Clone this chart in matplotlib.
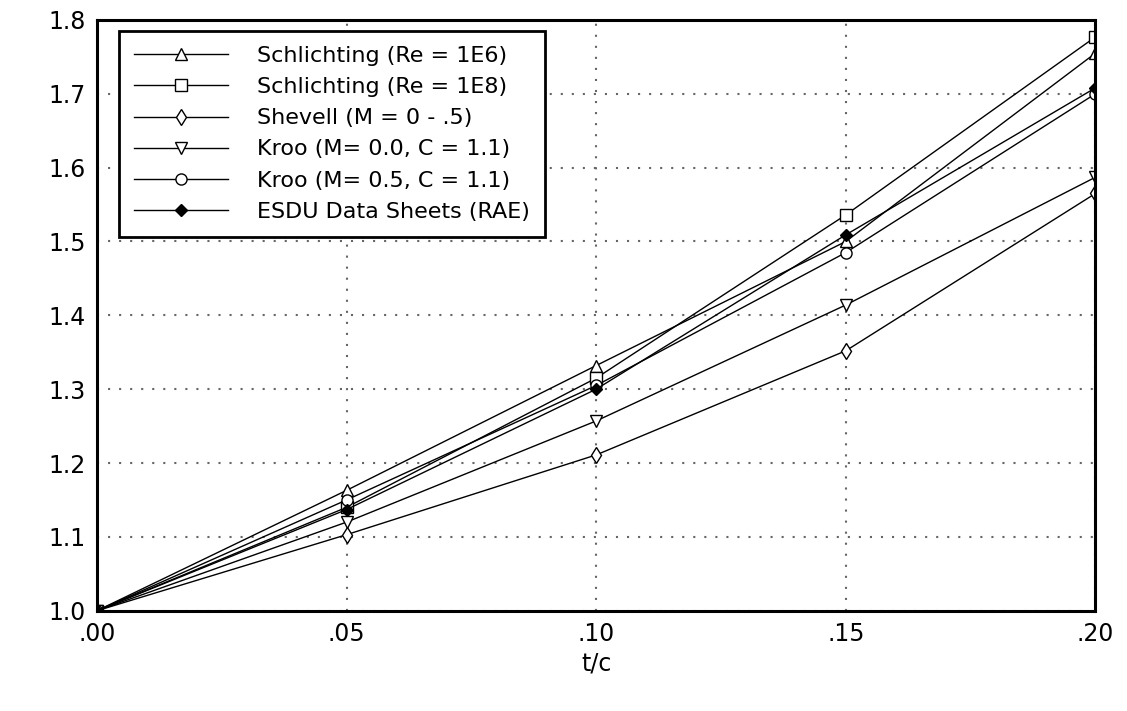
import matplotlib.pyplot as plt
import numpy as np

tc = [0.0, 0.05, 0.10, 0.15, 0.20]
schl_1e6 = [1.0, 1.163, 1.332, 1.500, 1.755]
schl_1e8 = [1.0, 1.140, 1.315, 1.536, 1.777]
shevell = [1.0, 1.103, 1.211, 1.352, 1.565]
kroo_m0 = [1.0, 1.120, 1.257, 1.414, 1.587]
kroo_m5 = [1.0, 1.150, 1.305, 1.485, 1.700]
esdu = [1.0, 1.137, 1.300, 1.509, 1.708]

labels = ['Schlichting (Re = 1E6)', 'Schlichting (Re = 1E8)', 'Shevell (M = 0 - .5)',
          'Kroo (M= 0.0, C = 1.1)', 'Kroo (M= 0.5, C = 1.1)', 'ESDU Data Sheets (RAE)']

fig = plt.figure(figsize=(11.27, 7.11), dpi=100)
ax = fig.add_axes([0.086, 0.141, 0.886, 0.831])

style = dict(color='black', lw=1.0, mec='black', mew=1.0)
ax.plot(tc, schl_1e6, '-^', ms=8, mfc='white', label=labels[0], **style)
ax.plot(tc, schl_1e8, '-s', ms=8.5, mfc='white', label=labels[1], **style)
ax.plot(tc, shevell, '-d', ms=8, mfc='white', label=labels[2], **style)
ax.plot(tc, kroo_m0, '-v', ms=8, mfc='white', label=labels[3], **style)
ax.plot(tc, kroo_m5, '-o', ms=8, mfc='white', label=labels[4], **style)
ax.plot(tc, esdu, '-D', ms=6.5, mfc='black', label=labels[5], **style)

ax.set_xlim(0, 0.20)
ax.set_ylim(1.0, 1.8)
ax.set_xticks([0, 0.05, 0.10, 0.15, 0.20])
ax.set_xticklabels(['.00', '.05', '.10', '.15', '.20'])
ax.set_yticks(np.arange(1.0, 1.81, 0.1))
ax.set_yticklabels(['1.0', '1.1', '1.2', '1.3', '1.4', '1.5', '1.6', '1.7', '1.8'])
ax.tick_params(length=0, labelsize=17, pad=8)
ax.grid(True, color='#666666', linestyle=(0, (1, 4.3)), lw=1.5)
for s in ax.spines.values():
    s.set_linewidth(2.2)
ax.set_xlabel('t/c', size=17)

leg = ax.legend(loc='upper left', bbox_to_anchor=(0.022, 0.982), fontsize=16, fancybox=False,
                framealpha=1, edgecolor='black', handlelength=4.2, handletextpad=1.3,
                borderpad=0.7, labelspacing=0.5, borderaxespad=0)
leg.get_frame().set_linewidth(2)

fig.savefig('out.png')
